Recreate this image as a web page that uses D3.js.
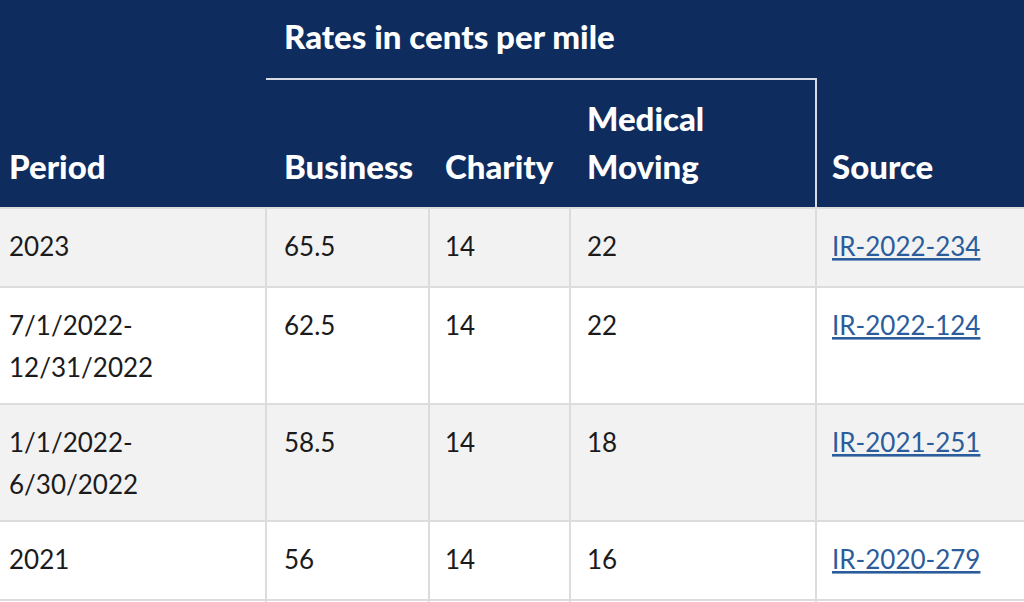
<!DOCTYPE html>
<html><head><meta charset="utf-8">
<script src="https://cdn.jsdelivr.net/npm/d3@7/dist/d3.min.js"></script>
<style>
html,body{margin:0;padding:0;background:#fff;overflow:hidden}
svg{display:block}
</style></head>
<body>
<svg id="c" width="1024" height="602"></svg>
<script>
// ---- data ----
const groupTitle = "Rates in cents per mile";
const columns = ["Period", "Business", "Charity", "Medical\nMoving", "Source"];
const periods = ["2023", "7/1/2022-\n12/31/2022", "1/1/2022-\n6/30/2022", "2021"];
const business = [65.5, 62.5, 58.5, 56];
const charity = [14, 14, 14, 14];
const medical = [22, 22, 18, 16];
const sources = ["IR-2022-234", "IR-2022-124", "IR-2021-251", "IR-2020-279"];

// ---- layout ----
const W = 1024, H = 602;
const colEdges = [0, 266, 429, 570, 816, 1024];
const padL = [9, 18, 16, 17, 16];
const headerH = 208;
const lineH = 42;
const font = "Lato, 'Source Sans Pro', 'Noto Sans', sans-serif";
const fs = 26;
const hfs = 33;

const svg = d3.select("#c");
const x = d3.scaleOrdinal().domain(d3.range(5)).range(colEdges.slice(0,5));

// rows
const rows = periods.map((p,i)=>({
  cells:[p, String(business[i]), String(charity[i]), String(medical[i]), sources[i]],
  lines: p.split("\n").length
}));
let yAcc = headerH;
rows.forEach(r=>{ r.h = r.lines===1 ? 79 : 117; r.y = yAcc; yAcc += r.h; });

// header background
svg.append("rect").attr("x",0).attr("y",0).attr("width",W).attr("height",headerH).attr("fill","#0f2c5f");

// group title
svg.append("text").attr("x", x(1)+18).attr("y", 49)
  .attr("font-family",font).attr("font-size",hfs).attr("font-weight",900).attr("fill","#fff")
  .text(groupTitle);
// group rules
svg.append("line").attr("x1",x(1)).attr("x2",x(4)).attr("y1",79).attr("y2",79)
  .attr("stroke","#d6dae3").attr("stroke-width",2);
svg.append("line").attr("x1",x(4)).attr("x2",x(4)).attr("y1",78).attr("y2",headerH)
  .attr("stroke","#d6dae3").attr("stroke-width",2);

// column headers
columns.forEach((c,i)=>{
  const parts = c.split("\n");
  const t = svg.append("text").attr("font-family",font).attr("font-size",hfs)
    .attr("font-weight",900).attr("fill","#fff");
  parts.forEach((p,j)=>{
    t.append("tspan").attr("x", x(i)+padL[i]).attr("y", 179 - (parts.length-1-j)*48).text(p);
  });
});

// row backgrounds
const g = svg.append("g");
g.selectAll("rect.row").data(rows).join("rect").attr("class","row")
  .attr("x",0).attr("y",d=>d.y).attr("width",W).attr("height",d=>d.h)
  .attr("fill",(d,i)=> i%2===0 ? "#f2f2f2" : "#ffffff");

// horizontal borders
const hLines = [headerH].concat(rows.map(r=>r.y+r.h));
g.selectAll("line.h").data(hLines).join("line").attr("class","h")
  .attr("x1",0).attr("x2",W).attr("y1",d=>d).attr("y2",d=>d)
  .attr("stroke","#dcdcdc").attr("stroke-width",2);
// vertical borders
g.selectAll("line.v").data([1,2,3,4]).join("line").attr("class","v")
  .attr("x1",d=>x(d)).attr("x2",d=>x(d)).attr("y1",headerH).attr("y2",H)
  .attr("stroke","#dcdcdc").attr("stroke-width",2);

// cell text
rows.forEach((r,ri)=>{
  r.cells.forEach((c,ci)=>{
    const parts = c.split("\n");
    const t = g.append("text").attr("font-family",font).attr("font-size",fs)
      .attr("fill", ci===4 ? "#2b5c9c" : "#1b1b1b")
      .attr("text-decoration", ci===4 ? "underline" : null);
    parts.forEach((p,j)=>{
      t.append("tspan").attr("x", x(ci)+padL[ci]).attr("y", r.y+48+j*lineH).text(p);
    });
  });
});
</script>
</body></html>
